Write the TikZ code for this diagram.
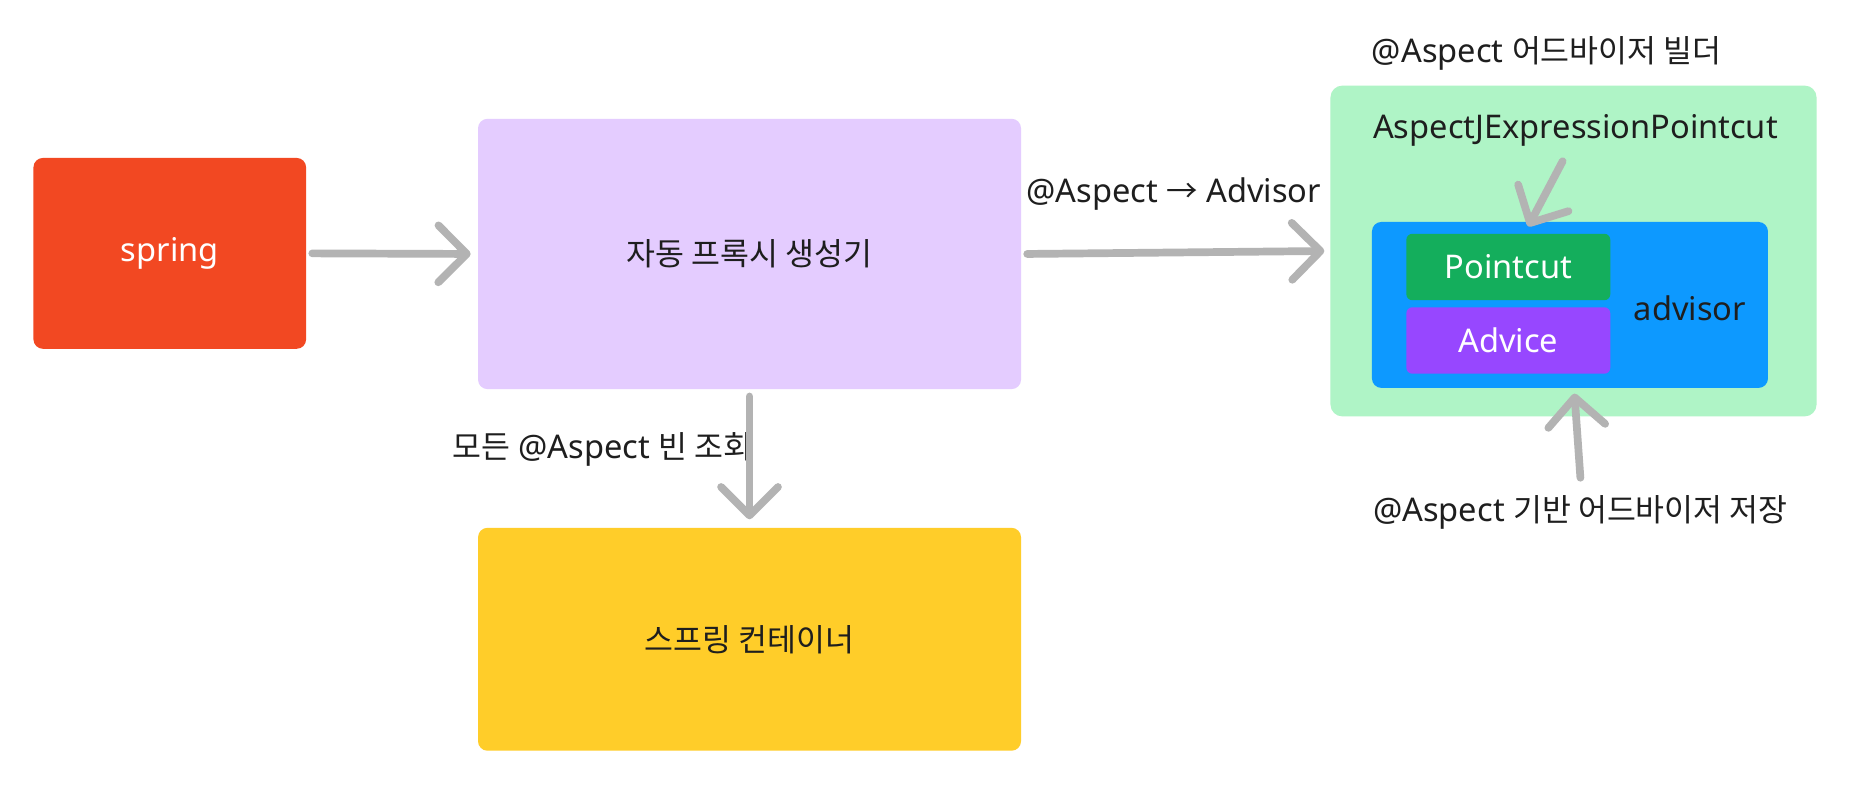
\documentclass[tikz,border=0pt]{standalone}
\usepackage{fontspec}
\setmainfont{Noto Sans}
\newfontfamily\kr{Noto Sans CJK KR}
\newcommand\krt[1]{{\kr\fontsize{26.5}{30}\selectfont #1}}
\usetikzlibrary{arrows.meta}
\definecolor{cspring}{HTML}{F24822}
\definecolor{cproxy}{HTML}{E4CCFF}
\definecolor{ccont}{HTML}{FFCD29}
\definecolor{cgreenl}{HTML}{AFF4C6}
\definecolor{cblue}{HTML}{0D99FF}
\definecolor{cgreen}{HTML}{14AE5C}
\definecolor{cpurple}{HTML}{9747FF}
\definecolor{cgray}{HTML}{B3B3B3}
\definecolor{ctext}{HTML}{1E1E1E}
\begin{document}
\begin{tikzpicture}[x=1pt,y=-1pt,
  box/.style={rectangle, rounded corners=8pt, inner sep=0pt, anchor=north west, font=\fontsize{27.5}{30}\selectfont},
  lbl/.style={inner sep=0pt, text=ctext, font=\fontsize{27.5}{30}\selectfont},
  arr/.style={draw=cgray, line width=6.5pt, line cap=round, -{Straight Barb[length=24pt,width=48pt,round]}}]
\useasboundingbox[fill=white] (0,0) rectangle (1568,672);
% boxes
\node[box, fill=cspring, text=white, minimum width=230pt, minimum height=161pt] (spring) at (28,133) {spring};
\node[box, fill=cproxy, text=ctext, minimum width=458pt, minimum height=228pt] (proxy) at (403,100) {\krt{자동 프록시 생성기}};
\node[box, fill=ccont, text=ctext, minimum width=458pt, minimum height=188pt] (cont) at (403,445) {\krt{스프링 컨테이너}};
\node[box, fill=cgreenl, rounded corners=10pt, minimum width=410pt, minimum height=279pt] (builder) at (1122,72) {};
\node[box, fill=cblue, minimum width=334pt, minimum height=140pt] (advisor) at (1157,187) {};
\node[box, fill=cgreen, text=white, rounded corners=5pt, minimum width=172pt, minimum height=56pt] (pointcut) at (1186,197) {Pointcut};
\node[box, fill=cpurple, text=white, rounded corners=5pt, minimum width=172pt, minimum height=56pt] (advice) at (1186,259) {Advice};
% labels
\node[lbl, anchor=west] (advlbl) at (1378,260) {advisor};
\node[lbl] (toadv) at (990,164) {@Aspect \krt{→} Advisor};
\node[lbl] (query) at (508,379) {\krt{모든} @Aspect \krt{빈 조회}};
\node[lbl, anchor=west] (bldlbl) at (1157,45) {@Aspect \krt{어드바이저 빌더}};
\node[lbl, anchor=west] (ajlbl) at (1158,110) {AspectJExpressionPointcut};
\node[lbl, anchor=west] (storelbl) at (1158,432) {@Aspect \krt{기반 어드바이저 저장}};
% connectors
\coordinate (pcstart) at (1318,136);
\coordinate (pcend) at (1289,191);
\coordinate (ststart) at (1333,403);
\coordinate (stend) at (1328,332);
\draw[arr] ([xshift=5pt]spring.east) -- ([xshift=-6pt]proxy.west);
\draw[arr] ([yshift=-6pt]proxy.south) -- ([yshift=7pt]cont.north);
\draw[arr] ([xshift=5pt]proxy.east) -- ([xshift=-5pt]builder.west);
\draw[arr] (pcstart) -- (pcend);
\draw[arr] (ststart) -- (stend);
\end{tikzpicture}
\end{document}
